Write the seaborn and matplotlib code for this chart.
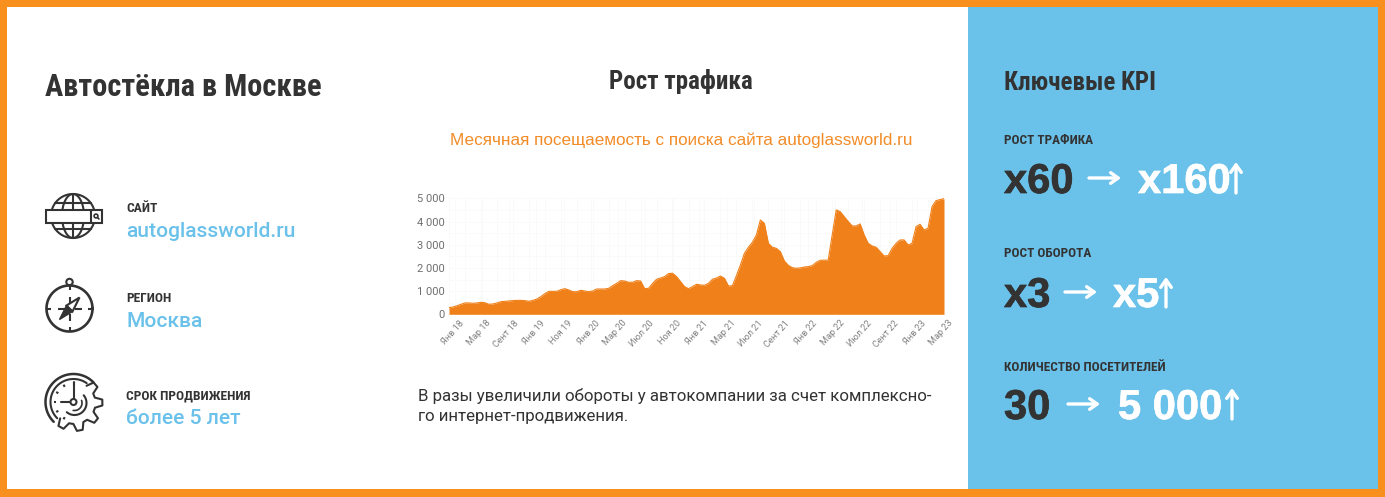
import numpy as np
import pandas as pd
import matplotlib
matplotlib.use("Agg")
import matplotlib.pyplot as plt
import matplotlib.patheffects as pe
from matplotlib.patches import Circle, Rectangle, Polygon
from matplotlib.transforms import ScaledTranslation
import seaborn as sns

# visits, every half month
traffic = [
    290, 315, 370, 430, 490, 490, 475, 490, 515, 500, 430, 445, 490, 545, 560, 575,
    590, 600, 600, 590, 560, 600, 660, 760, 890, 990, 990, 990, 1060, 1105, 1050, 975,
    975, 1035, 1005, 975, 1005, 1090, 1090, 1090, 1120, 1235, 1335, 1450, 1435, 1380, 1380, 1450,
    1435, 1105, 1120, 1335, 1510, 1565, 1625, 1755, 1770, 1625, 1410, 1195, 1105,
    1195, 1295, 1265, 1250, 1335, 1510, 1565, 1650, 1550, 1220, 1235, 1665, 2125, 2630, 2890,
    3105, 3420, 4065, 3920, 3060, 2890, 2845, 2700, 2300, 2110, 2010, 1985, 2000, 2040, 2055, 2100,
    2240, 2330, 2330, 2340, 3420, 4500, 4425, 4210, 4000, 3810, 3810, 3895, 3420, 3060, 2945, 2890,
    2700, 2515, 2530, 2845, 3060, 3205, 3205, 2990, 3060, 3780, 3880, 3635, 3710, 4640, 4900, 4945, 4985,
]
month_labels = ["Янв 18", "Мар 18", "Сент 18", "Янв 19", "Ноя 19", "Янв 20", "Мар 20", "Июл 20", "Ноя 20",
                "Янв 21", "Мар 21", "Июл 21", "Сент 21", "Янв 22", "Мар 22", "Июл 22", "Сент 22", "Янв 23", "Мар 23"]
y_ticks = [0, 1000, 2000, 3000, 4000, 5000]
y_labels = ["0", "1 000", "2 000", "3 000", "4 000", "5 000"]

ORANGE = "#F9901E"
FILL = "#F08019"
BLUE = "#6AC1EA"
DARK = "#333333"
NARROW = ["Roboto Condensed", "DejaVu Sans"]
BODY = ["Roboto", "DejaVu Sans"]
WIDE = ["Liberation Sans", "DejaVu Sans"]
W, H = 1385, 497

sns.set_theme(style="white")
plt.rcParams["font.family"] = BODY

fig = plt.figure(figsize=(W / 100, H / 100), dpi=100)
bg = fig.add_axes([0, 0, 1, 1])
bg.set_xlim(0, W)
bg.set_ylim(H, 0)
bg.axis("off")

bg.add_patch(Rectangle((0, 0), W, H, fc=ORANGE, ec="none"))
bg.add_patch(Rectangle((7, 7), W - 14, H - 15, fc="white", ec="none"))
bg.add_patch(Rectangle((968, 7), W - 7 - 968, H - 15, fc=BLUE, ec="none"))


def label(x, y, s, size, color=DARK, family=BODY, weight="normal", ha="left"):
    return bg.text(x, y, s, fontsize=size, color=color, family=family, weight=weight, ha=ha, va="baseline")


def big(x, y, s, color=DARK):
    t = label(x, y, s, 30, color=color, family=WIDE, weight="bold")
    t.set_path_effects([pe.withStroke(linewidth=0.5, foreground=color)])


label(45, 96, "Автостёкла в Москве", 22, family=NARROW, weight="bold")
label(681, 89, "Рост трафика", 18, family=NARROW, weight="bold", ha="center")
label(1004, 90, "Ключевые KPI", 18, family=NARROW, weight="bold")
label(681, 145, "Месячная посещаемость с поиска сайта autoglassworld.ru", 12.3, color="#F28C28", family=WIDE, ha="center")
label(418, 401, "В разы увеличили обороты у автокомпании за счет комплексно-", 12.2, color=DARK)
label(418, 421, "го интернет-продвижения.", 12.2, color=DARK)

# left column
label(126, 212, "САЙТ", 9.7, family=NARROW, weight="bold")
label(126, 237, "autoglassworld.ru", 15.1, color=BLUE, weight="medium")
label(126, 302, "РЕГИОН", 9.7, family=NARROW, weight="bold")
label(126, 327, "Москва", 15.1, color=BLUE, weight="medium")
label(126, 399, "СРОК ПРОДВИЖЕНИЯ", 9.7, family=NARROW, weight="bold")
label(126, 424, "более 5 лет", 15.1, color=BLUE, weight="medium")

# right column
label(1004, 144, "РОСТ ТРАФИКА", 9.55, family=NARROW, weight="bold")
label(1004, 257, "РОСТ ОБОРОТА", 9.55, family=NARROW, weight="bold")
label(1004, 371, "КОЛИЧЕСТВО ПОСЕТИТЕЛЕЙ", 9.55, family=NARROW, weight="bold")
big(1004, 193, "x60")
big(1138, 193, "x160", "white")
big(1004, 307, "x3")
big(1113, 307, "x5", "white")
big(1004, 419, "30")
big(1118, 419, "5 000", "white")


def arrow(x0, y0, x1, y1):
    bg.annotate("", xy=(x1, y1), xytext=(x0, y0),
                arrowprops=dict(arrowstyle="->,head_length=0.45,head_width=0.32", color="white", lw=2.4,
                                shrinkA=0, shrinkB=0))


arrow(1089, 178, 1121, 178)
arrow(1065, 292, 1097, 292)
arrow(1068, 404, 1100, 404)
arrow(1236, 193, 1236, 162)
arrow(1166, 307, 1166, 277)
arrow(1232, 419, 1232, 388)

# icons
LW = 1.5


def ring(cx, cy, r, t0=0, t1=360, lw=LW, rx=None):
    t = np.radians(np.linspace(t0, t1, 90))
    bg.plot(cx + (r if rx is None else rx) * np.cos(t), cy + r * np.sin(t), color=DARK, lw=lw, solid_capstyle="round")


def spoke(cx, cy, r0, r1, deg, lw=LW):
    c, s = np.cos(np.radians(deg)), np.sin(np.radians(deg))
    bg.plot([cx + r0 * c, cx + r1 * c], [cy + r0 * s, cy + r1 * s], color=DARK, lw=lw, solid_capstyle="butt")


# globe with a search bar
cx, cy = 73, 216
ring(cx, cy, 22)
ring(cx, cy, 22, rx=11)
bg.plot([cx, cx], [cy - 22, cy + 22], color=DARK, lw=LW)
for dy, hw in [(-13, 18), (13, 18)]:
    bg.plot([cx - hw, cx + hw], [cy + dy, cy + dy], color=DARK, lw=LW)
bg.add_patch(Rectangle((46, 210), 56, 13, fc="white", ec=DARK, lw=LW, zorder=3))
bg.plot([91, 91], [210, 223], color=DARK, lw=LW, zorder=4)
bg.add_patch(Circle((96, 216), 1.9, fc="none", ec=DARK, lw=1.2, zorder=4))
bg.plot([97.5, 99], [217.5, 219], color=DARK, lw=1.2, zorder=4)

# compass
cx, cy = 69.5, 308.5
ring(cx, cy, 23, lw=LW + 0.4)
bg.add_patch(Circle((cx, 282), 3.2, fc="white", ec=DARK, lw=LW))
for a in range(0, 360, 90):
    spoke(cx, cy, 18.5, 23, a)
for a in (0, 90, 180, 270):
    spoke(cx, cy, 5, 12, a, lw=LW)
bg.add_patch(Polygon([(cx + 10, cy - 11), (cx + 3, cy + 3), (cx - 3, cy - 3)], fc="white", ec=DARK, lw=LW, zorder=3))
bg.add_patch(Polygon([(cx - 10, cy + 11), (cx + 3, cy + 3), (cx - 3, cy - 3)], fc=DARK, ec=DARK, lw=1, zorder=3))

# clock with a gear
cx, cy = 73.5, 402
ring(cx, cy, 28, 135, 315, lw=LW + 0.3)
ring(cx, cy, 23, 135, 305, lw=LW)
gear_t, gear_r = [], []
for start in range(-55, 135, 40):
    gear_t += [start, start + 8, start + 20, start + 28]
    gear_r += [21, 28, 28, 21]
gt = np.radians(gear_t)
bg.plot(cx + 1 + np.array(gear_r) * np.cos(gt), cy + 1 + np.array(gear_r) * np.sin(gt), color=DARK, lw=LW, solid_joinstyle="round")
ring(cx + 1, cy + 1, 12, -40, 130)
ring(cx + 1, cy + 1, 7.5, -20, 100, lw=LW - 0.3)
bg.add_patch(Circle((cx, cy), 3, fc="white", ec=DARK, lw=LW, zorder=3))
bg.plot([cx, cx], [cy - 3, cy - 20], color=DARK, lw=LW)
bg.plot([cx - 3, cx - 13], [cy, cy], color=DARK, lw=LW)
for a in range(120, 290, 30):
    spoke(cx, cy, 17.5, 20, a, lw=LW)

# traffic chart
left, right, top, bottom = 449, 944, 198.3, 314.3
ax = fig.add_axes([left / W, 1 - bottom / H, (right - left) / W, (bottom - top) / H])
df = pd.DataFrame({"point": np.arange(len(traffic)), "visits": traffic})
sns.lineplot(data=df, x="point", y="visits", ax=ax, color=FILL, lw=0.8)
ax.fill_between(df["point"], df["visits"], color=FILL, lw=0)
ax.set_xlim(0, len(traffic) - 1)
ax.set_ylim(0, 5000)
ax.set_xlabel("")
ax.set_ylabel("")
ax.patch.set_alpha(0)
sns.despine(ax=ax, left=True, bottom=True, top=True, right=True)

ax.set_yticks(y_ticks, y_labels, fontsize=8, color="#6f6f6f")
ax.set_yticks(np.arange(0, 5001, 500), minor=True)
ax.set_xticks(np.linspace(1.5, len(traffic) - 1, len(month_labels)), month_labels,
              rotation=48, ha="right", rotation_mode="anchor", fontsize=6.6, color="#808080")
ax.set_xticks(np.arange(0, len(traffic), 4), minor=True)
ax.grid(True, which="both", color="#FAFAFA", lw=0.7)
ax.set_axisbelow(True)
ax.tick_params(axis="both", which="both", length=0)
ax.tick_params(axis="y", pad=3)
ax.tick_params(axis="x", pad=3)
shift = ScaledTranslation(4 / 100, 0, fig.dpi_scale_trans)
for t in ax.get_xticklabels():
    t.set_transform(t.get_transform() + shift)

fig.savefig("out.png", dpi=100)
